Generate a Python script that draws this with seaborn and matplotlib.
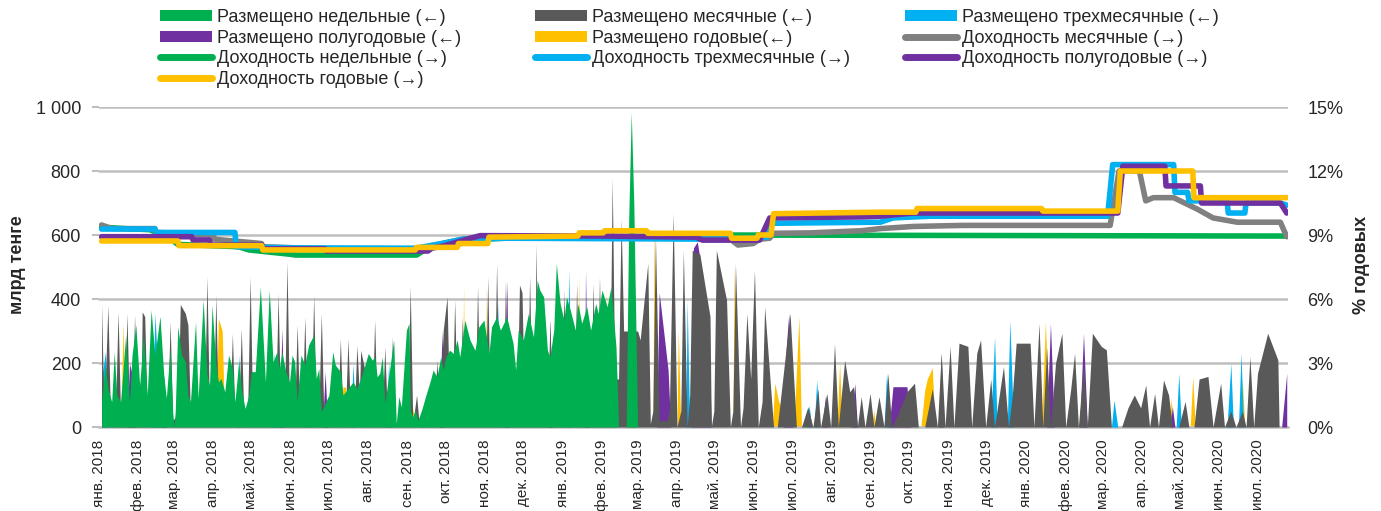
import numpy as np
import pandas as pd
import matplotlib
matplotlib.use("Agg")
import matplotlib.pyplot as plt
import seaborn as sns
from matplotlib.patches import Patch
from matplotlib.lines import Line2D

# day offsets are counted from 1 Jan 2018
start = pd.Timestamp("2018-01-01")
month_names = ["янв.", "фев.", "мар.", "апр.", "май.", "июн.",
               "июл.", "авг.", "сен.", "окт.", "ноя.", "дек."]

# placements, bln tenge (day, value)
placed_week = [
    (2, 80), (5, 194), (7, 120), (10, 79), (12, 235), (14, 100), (17, 79), (21, 287), (24, 79), (26, 225),
    (29, 319), (32, 131), (35, 287), (38, 100), (41, 366), (44, 225), (48, 345), (51, 162), (53, 90), (56, 246),
    (58, 48), (59, 0), (60, 48), (62, 314), (65, 225), (68, 204), (70, 100), (72, 79), (76, 329), (78, 90),
    (82, 397), (85, 162), (87, 131), (89, 381), (92, 194), (94, 141), (96, 152), (99, 110), (102, 225), (105, 183),
    (107, 79), (110, 204), (112, 120), (115, 58), (118, 100), (120, 173), (123, 173), (127, 438), (131, 141), (134, 428),
    (137, 204), (140, 235), (142, 183), (144, 235), (147, 173), (150, 141), (152, 225), (154, 204), (156, 79), (159, 225),
    (162, 194), (165, 256), (169, 287), (171, 152), (173, 183), (175, 48), (181, 100), (184, 235), (186, 194), (190, 173),
    (192, 100), (196, 120), (200, 141), (203, 120), (207, 162), (212, 230), (215, 209), (217, 219), (219, 157), (221, 168),
    (223, 219), (225, 74), (228, 157), (232, 272), (234, 11), (236, 95), (238, 63), (242, 303), (244, 324), (245, 53),
    (247, 32), (249, 53), (251, 21), (254, 53), (257, 95), (261, 147), (263, 178), (266, 157), (269, 219), (271, 178),
    (273, 219), (276, 240), (279, 230), (282, 272), (284, 219), (288, 334), (292, 272), (296, 240), (299, 313), (303, 334),
    (307, 230), (309, 313), (313, 344), (316, 303), (321, 344), (326, 261), (328, 178), (330, 303), (334, 272), (338, 355),
    (342, 282), (345, 459), (347, 428), (350, 407), (353, 240), (355, 219), (358, 303), (360, 511), (363, 386), (366, 334),
    (368, 407), (371, 365), (375, 303), (377, 386), (380, 324), (384, 376), (387, 303), (391, 386), (393, 355), (396, 428),
    (400, 376), (403, 438), (405, 344), (407, 250), (409, 0), (415, 0), (417, 650), (419, 983), (421, 700), (424, 0),
]
placed_month = [
    (2, 385), (4, 30), (7, 381), (9, 30), (13, 40), (15, 360), (17, 30), (20, 40), (22, 355), (24, 30),
    (26, 40), (28, 350), (30, 30), (33, 40), (34, 360), (36, 345), (38, 30), (54, 40), (56, 329), (58, 20),
    (62, 40), (64, 383), (68, 355), (70, 319), (72, 30), (83, 40), (85, 470), (87, 30), (90, 40), (92, 412),
    (94, 30), (103, 40), (105, 292), (107, 30), (110, 40), (112, 308), (114, 30), (117, 40), (119, 470), (121, 30),
    (139, 40), (141, 418), (143, 30), (146, 40), (148, 517), (150, 30), (154, 40), (156, 319), (158, 30), (160, 40),
    (162, 345), (164, 30), (167, 40), (169, 412), (171, 30), (173, 40), (175, 355), (177, 30), (188, 40), (190, 276),
    (192, 30), (194, 40), (196, 276), (198, 30), (201, 40), (203, 255), (205, 100), (206, 240), (209, 183), (211, 30),
    (215, 40), (217, 334), (219, 30), (223, 40), (225, 251), (227, 30), (229, 40), (231, 282), (233, 10), (243, 40),
    (245, 439), (247, 10), (248, 40), (250, 100), (252, 10), (264, 40), (266, 209), (268, 40), (271, 303), (274, 407),
    (276, 40), (278, 40), (280, 397), (282, 40), (284, 40), (286, 344), (288, 100), (290, 250), (292, 40), (296, 40),
    (298, 439), (300, 40), (304, 40), (306, 470), (308, 40), (311, 40), (313, 511), (315, 40), (318, 40), (320, 459),
    (322, 40), (329, 40), (331, 444), (333, 420), (335, 40), (337, 40), (339, 470), (341, 40), (343, 40), (344, 574),
    (346, 40), (353, 40), (355, 334), (357, 40), (364, 40), (366, 428), (368, 40), (374, 40), (376, 449), (378, 40),
    (387, 40), (389, 449), (391, 40), (392, 40), (394, 470), (396, 40), (402, 40), (404, 777), (406, 150), (409, 150),
    (411, 650), (413, 300), (424, 300), (426, 272), (432, 511), (434, 10), (436, 50), (438, 600), (441, 20), (447, 20),
    (449, 50), (452, 668), (455, 0), (458, 50), (460, 553), (463, 0), (465, 100), (467, 553), (470, 545), (473, 540),
    (481, 345), (482, 0), (484, 50), (486, 553), (494, 397), (497, 0), (499, 50), (501, 511), (505, 0), (507, 60),
    (510, 355), (513, 150), (516, 490), (519, 0), (522, 80), (524, 376), (531, 0), (534, 0), (544, 355), (549, 0),
    (553, 0), (558, 63), (562, 0), (566, 120), (568, 0), (573, 105), (576, 0), (579, 261), (582, 0), (587, 209),
    (591, 110), (594, 126), (597, 0), (600, 95), (603, 0), (607, 105), (610, 0), (614, 95), (618, 0), (621, 168),
    (624, 0), (628, 32), (636, 110), (642, 137), (645, 0), (650, 0), (656, 120), (660, 0), (663, 231), (666, 0),
    (670, 252), (673, 0), (677, 262), (684, 252), (687, 0), (691, 231), (694, 272), (698, 0), (702, 150), (705, 0),
    (712, 189), (716, 0), (719, 100), (722, 262), (733, 262), (736, 0), (740, 324), (743, 0), (746, 250), (749, 0),
    (753, 200), (758, 293), (761, 0), (765, 120), (768, 231), (771, 0), (775, 200), (778, 0), (782, 293), (789, 252),
    (793, 241), (797, 0), (805, 0), (810, 60), (815, 100), (820, 60), (824, 131), (827, 0), (831, 105), (834, 0),
    (838, 147), (842, 100), (845, 0), (850, 0), (855, 80), (858, 0), (862, 0), (866, 150), (873, 158), (877, 0),
    (883, 137), (886, 0), (891, 50), (895, 0), (900, 50), (903, 0), (906, 220), (909, 0), (912, 168), (920, 293),
    (928, 210), (929, 0), (935, 0),
]
placed_3m = [
    (2, 150), (5, 234), (7, 0), (42, 0), (44, 355), (46, 200), (48, 345), (50, 0), (108, 0), (110, 225),
    (112, 0), (136, 0), (138, 234), (140, 0), (163, 0), (165, 256), (167, 0), (198, 0), (200, 198), (202, 0),
    (226, 0), (228, 200), (230, 0), (253, 0), (254, 60), (256, 0), (313, 0), (314, 397), (316, 0), (368, 0),
    (370, 490), (372, 0), (462, 0), (463, 397), (465, 0), (557, 0), (559, 68), (561, 0), (563, 0), (565, 147),
    (567, 0), (618, 0), (620, 168), (623, 0), (702, 0), (705, 282), (707, 0), (715, 0), (717, 334), (720, 0),
    (797, 0), (799, 84), (802, 0), (848, 0), (850, 168), (852, 0), (888, 0), (891, 199), (893, 0), (897, 0),
    (899, 231), (901, 0),
]
placed_6m = [
    (22, 0), (24, 198), (27, 150), (29, 0), (49, 0), (51, 162), (53, 0), (142, 0), (144, 308), (146, 0),
    (176, 0), (178, 173), (180, 0), (268, 0), (270, 303), (272, 0), (319, 0), (321, 459), (323, 0), (354, 0),
    (355, 334), (357, 0), (382, 0), (383, 490), (385, 0), (439, 0), (441, 420), (448, 178), (450, 0), (466, 0),
    (468, 560), (471, 579), (476, 450), (480, 300), (482, 0), (539, 0), (541, 250), (543, 355), (546, 0), (569, 0),
    (572, 100), (574, 0), (592, 0), (595, 137), (597, 0), (622, 0), (625, 126), (636, 126), (639, 0), (661, 0),
    (663, 230), (665, 0), (746, 0), (749, 324), (752, 0), (772, 0), (775, 293), (778, 0), (843, 0), (845, 63),
    (847, 0), (931, 0), (935, 168),
]
placed_1y = [
    (17, 0), (19, 324), (21, 0), (92, 0), (94, 339), (97, 300), (99, 0), (190, 0), (192, 125), (194, 125),
    (196, 0), (246, 0), (247, 60), (249, 0), (286, 0), (287, 439), (288, 0), (304, 0), (305, 439), (306, 0),
    (336, 0), (337, 344), (338, 0), (377, 0), (378, 480), (379, 0), (398, 0), (399, 440), (400, 0), (436, 0),
    (437, 626), (439, 0), (455, 0), (456, 303), (458, 0), (499, 0), (500, 505), (502, 0), (530, 0), (532, 137),
    (535, 80), (537, 60), (539, 0), (547, 0), (551, 345), (553, 0), (581, 0), (583, 200), (585, 0), (608, 0),
    (610, 53), (611, 0), (647, 0), (650, 115), (652, 150), (656, 185), (658, 0), (742, 0), (745, 329), (748, 0),
    (843, 0), (844, 90), (846, 0), (859, 0), (861, 158), (863, 0), (898, 0), (900, 150), (902, 0),
]

# yields, % (day, value)
yield_week = [
    (2, 9.37), (20, 9.3), (40, 9.25), (55, 8.9), (62, 8.56), (110, 8.45), (118, 8.3), (150, 8.1), (155, 8.06),
    (250, 8.06), (259, 8.4), (285, 8.6), (300, 8.8), (320, 8.85), (400, 8.9), (480, 9.0), (935, 8.95),
]
yield_month = [
    (2, 9.47), (10, 9.3), (44, 9.3), (45, 9.12), (90, 9.0), (91, 8.8), (128, 8.6), (129, 8.45), (180, 8.35),
    (250, 8.35), (286, 8.8), (300, 8.9), (495, 8.9), (503, 8.53), (515, 8.6), (520, 8.8), (528, 8.85), (531, 9.08),
    (560, 9.1), (600, 9.2), (615, 9.3), (641, 9.4), (680, 9.45), (796, 9.45), (803, 12.0), (819, 12.0), (824, 10.6),
    (830, 10.75), (846, 10.75), (865, 10.2), (877, 9.8), (896, 9.6), (930, 9.6), (935, 8.92),
]
yield_3m = [
    (2, 9.28), (44, 9.28), (45, 9.12), (107, 9.12), (108, 8.45), (150, 8.4), (249, 8.38), (270, 8.6), (286, 8.8),
    (320, 8.85), (500, 8.8), (526, 8.9), (530, 9.55), (615, 9.6), (625, 9.8), (654, 9.88), (794, 9.88), (798, 12.3),
    (846, 12.3), (847, 11.0), (857, 11.0), (858, 10.6), (888, 10.6), (889, 10.03), (902, 10.03), (903, 10.5),
    (930, 10.5), (935, 10.4),
]
yield_6m = [
    (2, 8.92), (73, 8.92), (74, 8.77), (87, 8.77), (88, 8.53), (128, 8.53), (129, 8.35), (178, 8.35), (179, 8.25),
    (259, 8.25), (262, 8.38), (272, 8.5), (292, 8.84), (300, 8.97), (400, 8.95), (470, 8.9), (475, 8.76), (520, 8.76),
    (528, 9.8), (600, 9.85), (615, 9.88), (641, 10.03), (802, 10.03), (806, 12.22), (839, 12.22), (840, 11.3),
    (867, 11.3), (868, 10.5), (930, 10.5), (935, 10.03),
]
yield_1y = [
    (2, 8.72), (62, 8.72), (63, 8.5), (128, 8.5), (129, 8.3), (249, 8.3), (250, 8.42), (282, 8.42), (283, 8.6),
    (306, 8.6), (307, 8.9), (377, 8.95), (378, 9.1), (397, 9.1), (398, 9.2), (431, 9.2), (432, 9.08), (497, 9.08),
    (498, 8.85), (518, 8.85), (519, 9.0), (529, 9.0), (531, 10.0), (615, 10.07), (643, 10.07), (644, 10.24),
    (742, 10.24), (743, 10.12), (802, 10.12), (804, 12.0), (861, 12.0), (862, 10.75), (935, 10.75),
]

area_labels = ["Размещено недельные (←)", "Размещено месячные (←)", "Размещено трехмесячные (←)",
               "Размещено полугодовые (←)", "Размещено годовые(←)"]
line_labels = ["Доходность недельные (→)", "Доходность месячные (→)", "Доходность трехмесячные (→)",
               "Доходность полугодовые (→)", "Доходность годовые (→)"]
area_colors = ["#00B050", "#595959", "#00B0F0", "#7030A0", "#FFC000"]
line_colors = ["#00B050", "#808080", "#00B0F0", "#7030A0", "#FFC000"]


def to_frame(pairs):
    df = pd.DataFrame(pairs, columns=["day", "value"])
    df["date"] = start + pd.to_timedelta(df["day"], unit="D")
    return df


sns.set_style("white")
plt.rcParams["font.family"] = ["Liberation Sans", "DejaVu Sans"]

fig = plt.figure(figsize=(13.81, 5.11), dpi=100)
ax = fig.add_axes([99 / 1381, 1 - 427 / 511, (1288 - 99) / 1381, 320 / 511])
ax2 = ax.twinx()

areas = [placed_week, placed_month, placed_3m, placed_6m, placed_1y]
# back to front: годовые ... недельные
for k in [4, 3, 2, 1, 0]:
    df = to_frame(areas[k])
    ax.fill_between(df["date"], 0, df["value"], color=area_colors[k], lw=0, zorder=2 + (4 - k))

yields = [yield_week, yield_month, yield_3m, yield_6m, yield_1y]
for k in range(5):
    df = to_frame(yields[k])
    sns.lineplot(data=df, x="date", y="value", ax=ax2, color=line_colors[k], lw=4,
                 estimator=None, sort=False, legend=False,
                 solid_capstyle="round", solid_joinstyle="round")

ax.set_xlim(start, pd.Timestamp("2020-07-25"))
ax.set_ylim(0, 1000)
ax2.set_ylim(0, 15)

ticks = pd.date_range("2018-01-01", "2020-07-01", freq="MS")
ax.set_xticks(ticks)
ax.set_xticklabels([f"{month_names[t.month - 1]} {t.year}" for t in ticks])
ax.set_yticks(range(0, 1001, 200))
ax.set_yticklabels([f"{v:,}".replace(",", " ") for v in range(0, 1001, 200)])
ax2.set_yticks(range(0, 16, 3))
ax2.set_yticklabels([f"{v}%" for v in range(0, 16, 3)])

ax.set_axisbelow(True)
ax.yaxis.grid(True, color="#BFBFBF", lw=1.8)
ax.xaxis.grid(False)
for s in ["top", "left", "right"]:
    ax.spines[s].set_visible(False)
    ax2.spines[s].set_visible(False)
ax2.spines["bottom"].set_visible(False)
ax.spines["bottom"].set_color("#BFBFBF")
ax.spines["bottom"].set_linewidth(1.8)

ax.tick_params(axis="x", labelrotation=90, labelsize=11, length=6, width=1.5, color="#BFBFBF", pad=3)
ax.tick_params(axis="y", labelsize=13, length=5, width=1.5, color="#BFBFBF", pad=8, left=True)
ax2.tick_params(axis="y", labelsize=13, length=0, pad=14)
ax.set_xlabel("")
ax.set_ylabel("")
ax2.set_xlabel("")
ax2.set_ylabel("")

fig.text(18 / 1381, 1 - 265 / 511, "млрд тенге", rotation=90, ha="center", va="center",
         fontsize=13, fontweight="bold")
fig.text(1362 / 1381, 1 - 265 / 511, "% годовых", rotation=90, ha="center", va="center",
         fontsize=13, fontweight="bold")

# legend: Excel fills rows (and lists месячные yield first), so build three column legends
handles = [Patch(facecolor=c, edgecolor="none") for c in area_colors] + \
          [Line2D([], [], color=c, lw=5, solid_capstyle="round") for c in line_colors]
labels = area_labels + line_labels
columns = [[0, 3, 5, 9], [1, 4, 7], [2, 6, 8]]
col_x = [160 / 1381, 535 / 1381, 905 / 1381]
for idx, x in zip(columns, col_x):
    fig.legend([handles[i] for i in idx], [labels[i] for i in idx], loc="upper left",
               bbox_to_anchor=(x, 1 - 9 / 511), frameon=False, fontsize=13,
               handlelength=2.9, handleheight=0.55, handletextpad=0.25,
               labelspacing=0.2, borderpad=0, borderaxespad=0)

fig.savefig("out.png", dpi=100)
